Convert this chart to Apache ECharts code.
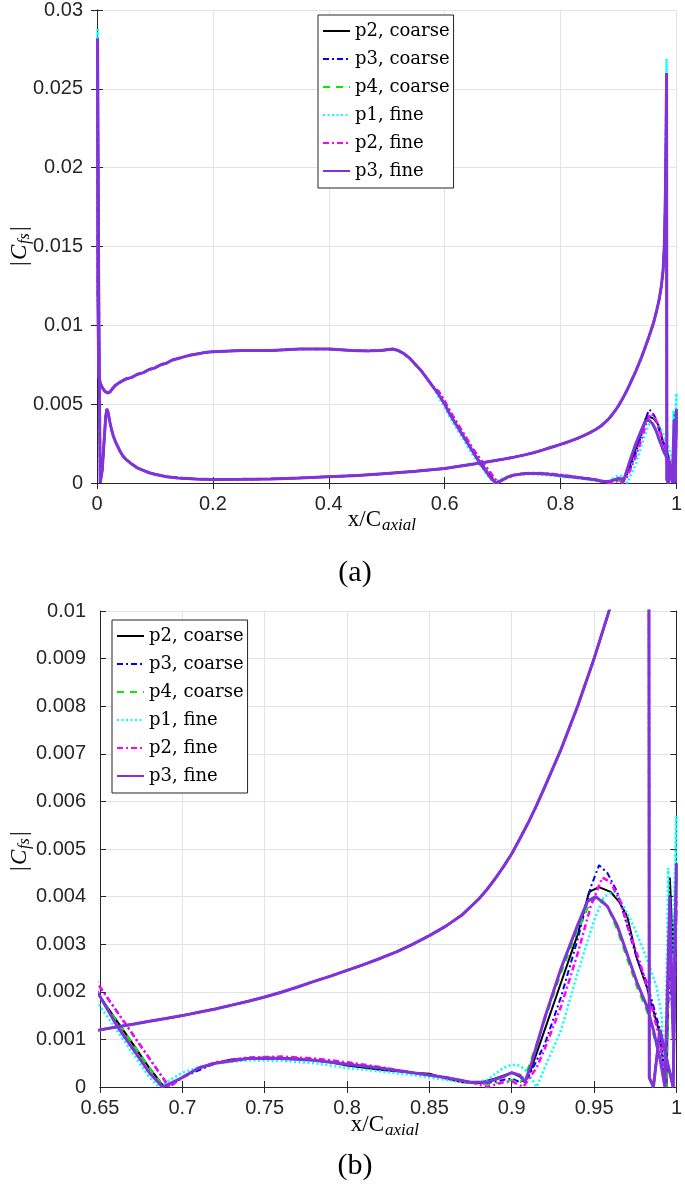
<!DOCTYPE html>
<html>
<head>
<meta charset="utf-8">
<script src="https://cdn.jsdelivr.net/npm/echarts@6/dist/echarts.min.js"></script>
<style>
html,body{margin:0;padding:0;background:#fff;}
#chart{width:685px;height:1194px;}
</style>
</head>
<body>
<div id="chart"></div>
<script>
// ---------- DATA (x/C_axial, |C_fs|) ----------
const seriesNames = ['p2, coarse', 'p3, coarse', 'p4, coarse', 'p1, fine', 'p2, fine', 'p3, fine'];
const seriesColors = ['#000000', '#0000ff', '#00ee00', '#00ffff', '#ff00ff', '#7f33d8'];

// leading-edge and trailing-edge peak values per series
const leadingPeak = [0.0282, 0.0282, 0.0282, 0.0288, 0.0282, 0.0282];
const trailingPeak = [0.0260, 0.0260, 0.0260, 0.0269, 0.0260, 0.0260];

// suction side, front part (common to all series)
const suctionFront = [
  [0.0015, 0.012], [0.003, 0.0068], [0.006, 0.0063], [0.01, 0.0060], [0.014, 0.0058], [0.019, 0.0057],
  [0.023, 0.0058], [0.027, 0.0060], [0.032, 0.0062], [0.04, 0.0064], [0.05, 0.0066], [0.06, 0.0067],
  [0.07, 0.0069], [0.08, 0.0070], [0.09, 0.0072], [0.1, 0.0073], [0.11, 0.0075], [0.12, 0.0076],
  [0.13, 0.0078], [0.14, 0.0079], [0.15, 0.0080], [0.16, 0.0081], [0.175, 0.0082], [0.19, 0.0083],
  [0.2, 0.00833], [0.25, 0.0084], [0.3, 0.0084], [0.35, 0.0085], [0.4, 0.0085], [0.44, 0.0084],
  [0.47, 0.00838], [0.49, 0.0084], [0.51, 0.0085], [0.52, 0.0084], [0.53, 0.0082], [0.54, 0.0079],
  [0.55, 0.0075], [0.56, 0.0071], [0.57, 0.0066], [0.58, 0.0061]
];

// suction side, rear part (per series)
const rearP2Coarse = [
  [0.59, 0.0056], [0.6, 0.0050], [0.61, 0.0043], [0.62, 0.0037], [0.63, 0.0031], [0.64, 0.0025],
  [0.65, 0.0019], [0.66, 0.0014], [0.67, 0.0009], [0.68, 0.0004], [0.689, 0.0], [0.695, 0.0001],
  [0.70, 0.0002], [0.71, 0.0004], [0.72, 0.0005], [0.73, 0.00058], [0.75, 0.00062], [0.77, 0.0006],
  [0.79, 0.00052], [0.8, 0.00045], [0.82, 0.00036], [0.84, 0.0003], [0.85, 0.00028], [0.86, 0.00018],
  [0.87, 0.0001], [0.88, 0.00008], [0.89, 0.00018], [0.9, 0.0003], [0.905, 0.00022], [0.908, 0.0001],
  [0.912, 0.0004], [0.92, 0.0012], [0.93, 0.0022], [0.94, 0.0032], [0.947, 0.0041], [0.953, 0.0042],
  [0.96, 0.0041], [0.965, 0.0039], [0.97, 0.0036], [0.976, 0.0027], [0.982, 0.0021], [0.986, 0.0016],
  [0.99, 0.0011], [0.994, 0.0], [0.996, 0.0044], [0.998, 0.0028], [1.0, 0.0045]
];
const rearP3Coarse = [
  [0.59, 0.0058], [0.6, 0.0052], [0.61, 0.0045], [0.62, 0.0039], [0.63, 0.0033], [0.64, 0.0027],
  [0.65, 0.0021], [0.66, 0.0016], [0.67, 0.0011], [0.68, 0.0006], [0.692, 0.0], [0.70, 0.0002],
  [0.71, 0.00035], [0.72, 0.0005], [0.74, 0.0006], [0.76, 0.00062], [0.78, 0.00058], [0.8, 0.0005],
  [0.82, 0.0004], [0.84, 0.0003], [0.86, 0.0002], [0.875, 0.0001], [0.885, 0.00008], [0.895, 0.00015],
  [0.9, 0.00018], [0.905, 0.0001], [0.91, 0.0002], [0.92, 0.0009], [0.93, 0.0019], [0.94, 0.0031],
  [0.948, 0.0042], [0.953, 0.00466], [0.958, 0.0045], [0.964, 0.0041], [0.97, 0.0034], [0.976, 0.0027],
  [0.982, 0.0022], [0.986, 0.0017], [0.99, 0.0012], [0.993, 0.0], [0.996, 0.0025], [0.998, 0.0012],
  [1.0, 0.0037]
];
const rearP4Coarse = [
  [0.59, 0.0056], [0.6, 0.0050], [0.61, 0.0043], [0.62, 0.0037], [0.63, 0.0031], [0.64, 0.0025],
  [0.65, 0.0019], [0.66, 0.0014], [0.67, 0.0009], [0.68, 0.0004], [0.689, 0.0], [0.70, 0.0002],
  [0.71, 0.0004], [0.72, 0.0005], [0.74, 0.0006], [0.76, 0.00062], [0.78, 0.00056], [0.8, 0.00048],
  [0.82, 0.0004], [0.84, 0.0003], [0.86, 0.0002], [0.875, 0.0001], [0.885, 0.00005], [0.895, 0.0001],
  [0.9, 0.00015], [0.905, 0.00008], [0.91, 0.0004], [0.92, 0.0014], [0.93, 0.0024], [0.94, 0.0033],
  [0.948, 0.0039], [0.953, 0.0040], [0.958, 0.0038], [0.964, 0.0033], [0.97, 0.0027], [0.976, 0.0021],
  [0.982, 0.0016], [0.986, 0.0011], [0.99, 0.0006], [0.994, 0.0], [0.996, 0.0034], [0.998, 0.0015],
  [1.0, 0.0042]
];
const rearP1Fine = [
  [0.59, 0.0054], [0.6, 0.0048], [0.61, 0.0041], [0.62, 0.0035], [0.63, 0.0029], [0.64, 0.0023],
  [0.65, 0.0017], [0.66, 0.0012], [0.67, 0.0007], [0.68, 0.0002], [0.686, 0.0], [0.69, 0.0001],
  [0.70, 0.0003], [0.71, 0.00042], [0.72, 0.0005], [0.74, 0.00056], [0.76, 0.00055], [0.78, 0.0005],
  [0.8, 0.0004], [0.82, 0.00033], [0.84, 0.00025], [0.86, 0.00015], [0.875, 0.00008], [0.885, 0.00015],
  [0.895, 0.0004], [0.9, 0.00047], [0.905, 0.00045], [0.91, 0.0003], [0.915, 0.0], [0.92, 0.0004],
  [0.93, 0.0012], [0.94, 0.0024], [0.95, 0.0035], [0.956, 0.0040], [0.962, 0.0041], [0.968, 0.0038],
  [0.975, 0.0033], [0.982, 0.0027], [0.988, 0.0021], [0.991, 0.0015], [0.993, 0.0], [0.995, 0.0046],
  [0.997, 0.0020], [1.0, 0.0057]
];
const rearP2Fine = [
  [0.59, 0.0058], [0.6, 0.0052], [0.61, 0.0045], [0.62, 0.0039], [0.63, 0.0033], [0.64, 0.0027],
  [0.65, 0.0021], [0.66, 0.0016], [0.67, 0.0011], [0.68, 0.0006], [0.692, 0.0], [0.70, 0.0002],
  [0.71, 0.0004], [0.72, 0.00052], [0.74, 0.00062], [0.76, 0.00064], [0.78, 0.0006], [0.8, 0.00052],
  [0.82, 0.00042], [0.84, 0.0003], [0.86, 0.0002], [0.875, 0.0001], [0.885, 0.0], [0.895, 0.0001],
  [0.9, 0.00012], [0.907, 0.0], [0.915, 0.0004], [0.92, 0.0008], [0.93, 0.0017], [0.94, 0.0028],
  [0.948, 0.0038], [0.955, 0.0044], [0.96, 0.0043], [0.966, 0.0039], [0.972, 0.0032], [0.978, 0.0026],
  [0.983, 0.0020], [0.987, 0.0014], [0.99, 0.0010], [0.993, 0.0], [0.996, 0.0030], [0.998, 0.0012],
  [1.0, 0.0040]
];
const rearP3Fine = [
  [0.59, 0.0056], [0.6, 0.0050], [0.61, 0.0043], [0.62, 0.0037], [0.63, 0.0031], [0.64, 0.0025],
  [0.65, 0.0019], [0.66, 0.0013], [0.67, 0.0008], [0.68, 0.0003], [0.688, 0.0], [0.70, 0.0002],
  [0.71, 0.0004], [0.72, 0.0005], [0.74, 0.0006], [0.76, 0.0006], [0.78, 0.00056], [0.8, 0.00048],
  [0.82, 0.0004], [0.84, 0.0003], [0.86, 0.0002], [0.875, 0.0001], [0.885, 0.0001], [0.895, 0.00022],
  [0.9, 0.0003], [0.905, 0.00025], [0.908, 0.0001], [0.912, 0.0005], [0.92, 0.00145], [0.93, 0.0025],
  [0.94, 0.0034], [0.946, 0.0039], [0.951, 0.0040], [0.958, 0.0038], [0.964, 0.0034], [0.97, 0.0028],
  [0.976, 0.0022], [0.982, 0.0017], [0.986, 0.0012], [0.99, 0.0006], [0.993, 0.0], [0.996, 0.0040],
  [0.998, 0.0010], [1.0, 0.0047]
];
const suctionRear = [rearP2Coarse, rearP3Coarse, rearP4Coarse, rearP1Fine, rearP2Fine, rearP3Fine];

// trailing-edge wrap (common)
const trailingEdgeLoop = [[0.998, 0.0], [0.99, 0.0012], [0.986, 0.0], [0.9835, 0.0002]];

// pressure side, from trailing edge back to leading edge (common)
const pressureSide = [
  [0.982, 0.022], [0.981, 0.0185], [0.98, 0.0165], [0.979, 0.015], [0.977, 0.0135], [0.974, 0.0125],
  [0.97, 0.0116], [0.965, 0.0108], [0.96, 0.0101], [0.955, 0.00955], [0.95, 0.0090], [0.945, 0.0085],
  [0.94, 0.0080], [0.935, 0.00755], [0.93, 0.0071], [0.925, 0.0067], [0.92, 0.0063], [0.915, 0.00591],
  [0.91, 0.00555], [0.905, 0.00522], [0.9, 0.0049], [0.895, 0.00463], [0.89, 0.00438], [0.885, 0.00415],
  [0.88, 0.00395], [0.87, 0.00362], [0.86, 0.00338], [0.85, 0.00318], [0.84, 0.0030], [0.83, 0.00284],
  [0.82, 0.0027], [0.81, 0.00257], [0.8, 0.00245], [0.79, 0.00233], [0.78, 0.00222], [0.77, 0.0021],
  [0.76, 0.00199], [0.75, 0.00189], [0.74, 0.0018], [0.73, 0.00172], [0.72, 0.00164], [0.71, 0.00157],
  [0.7, 0.0015], [0.69, 0.00144], [0.68, 0.00138], [0.67, 0.00132], [0.66, 0.00126], [0.65, 0.0012],
  [0.6, 0.00092], [0.55, 0.00075], [0.5, 0.0006], [0.45, 0.00048], [0.4, 0.0004], [0.35, 0.00032],
  [0.3, 0.00026], [0.25, 0.00023], [0.2, 0.00022], [0.17, 0.00025], [0.14, 0.00032], [0.12, 0.0004],
  [0.1, 0.00055], [0.09, 0.00065], [0.08, 0.0008], [0.07, 0.00095], [0.06, 0.0012], [0.05, 0.0015],
  [0.045, 0.0017], [0.04, 0.0020], [0.036, 0.0023], [0.032, 0.0026], [0.028, 0.0030], [0.025, 0.0034],
  [0.022, 0.0039], [0.019, 0.0045], [0.017, 0.0047], [0.015, 0.0042], [0.012, 0.0025], [0.009, 0.0008],
  [0.0055, 0.0], [0.003, 0.012]
];

// axis ranges / ticks
const panelA = { xMin: 0, xMax: 1, xStep: 0.2, yMin: 0, yMax: 0.03, yStep: 0.005 };
const panelB = { xMin: 0.65, xMax: 1, xStep: 0.05, yMin: 0, yMax: 0.01, yStep: 0.001 };
const panelLabels = ['(a)', '(b)'];

// ---------- CHART ----------
const lineStyles = [
  { width: 2, type: 'solid' },
  { width: 2, type: [6, 3, 2, 3] },
  { width: 2, type: [7, 6] },
  { width: 2.5, type: [2, 2.5] },
  { width: 2.5, type: [6, 3, 2, 3] },
  { width: 3, type: 'solid' }
];

function buildPath(i) {
  return [[0.001, leadingPeak[i]]]
    .concat(suctionFront)
    .concat(suctionRear[i])
    .concat(trailingEdgeLoop)
    .concat([[0.983, trailingPeak[i]]])
    .concat(pressureSide)
    .concat([[0.001, leadingPeak[i]]]);
}

const axisColor = '#262626';
const tickFont = { fontFamily: 'Liberation Sans, Arial, sans-serif', fontSize: 20, color: axisColor };

function xAxes(p, gridIndex) {
  const base = { type: 'value', gridIndex, min: p.xMin, max: p.xMax, interval: p.xStep,
    axisLine: { show: true, lineStyle: { color: axisColor, width: 1 } },
    axisTick: { show: true, inside: true, length: 6, lineStyle: { color: axisColor } } };
  return [
    Object.assign({}, base, { position: 'bottom',
      axisLabel: Object.assign({ margin: 11, showMaxLabel: true, showMinLabel: true }, tickFont),
      splitLine: { show: true, lineStyle: { color: '#e3e3e3', width: 1 } } }),
    Object.assign({}, base, { position: 'top', axisLabel: { show: false }, splitLine: { show: false } })
  ];
}
function yAxes(p, gridIndex) {
  const base = { type: 'value', gridIndex, min: p.yMin, max: p.yMax, interval: p.yStep,
    axisLine: { show: true, lineStyle: { color: axisColor, width: 1 } },
    axisTick: { show: true, inside: true, length: 6, lineStyle: { color: axisColor } } };
  return [
    Object.assign({}, base, { position: 'left',
      axisLabel: Object.assign({ margin: 14, showMaxLabel: true, showMinLabel: true }, tickFont),
      splitLine: { show: true, lineStyle: { color: '#e3e3e3', width: 1 } } }),
    Object.assign({}, base, { position: 'right', axisLabel: { show: false }, splitLine: { show: false } })
  ];
}

const series = [];
[0, 1].forEach(function (g) {
  seriesNames.forEach(function (name, i) {
    series.push({
      name: name, type: 'line', xAxisIndex: g * 2, yAxisIndex: g * 2,
      data: buildPath(i), symbol: 'none', showSymbol: false, clip: true,
      lineStyle: { color: seriesColors[i], width: lineStyles[i].width, type: lineStyles[i].type },
      itemStyle: { color: seriesColors[i] },
      z: 2 + i
    });
  });
});

function legendAt(left, top) {
  return {
    orient: 'vertical', left: left, top: top, data: seriesNames,
    itemWidth: 27, itemHeight: 14, itemGap: 8,
    backgroundColor: '#ffffff', borderColor: axisColor, borderWidth: 1,
    padding: [6, 4, 7, 4], borderRadius: 0,
    selectedMode: false,
    itemStyle: { opacity: 0, borderWidth: 0 },
    textStyle: { fontFamily: 'DejaVu Serif, serif', fontSize: 18, color: '#000', lineHeight: 20 }
  };
}

const serif = 'Liberation Serif, Times New Roman, serif';
function xName(cx, cy) {
  return { type: 'group', children: [
    { type: 'text', x: cx, y: cy, style: { text: 'x/C', font: '23px ' + serif, fill: '#000', textAlign: 'right', textVerticalAlign: 'middle' } },
    { type: 'text', x: cx + 1, y: cy + 6, style: { text: 'axial', font: 'italic 17px ' + serif, fill: '#000', textAlign: 'left', textVerticalAlign: 'middle' } }
  ] };
}
function yName(cx, cy) {
  return { type: 'group', x: cx, y: cy, rotation: Math.PI / 2, children: [
    { type: 'text', x: -21, y: 0, style: { text: '|', font: '23px ' + serif, fill: '#000', textAlign: 'left', textVerticalAlign: 'middle' } },
    { type: 'text', x: -15, y: 0, style: { text: 'C', font: 'italic 23px ' + serif, fill: '#000', textAlign: 'left', textVerticalAlign: 'middle' } },
    { type: 'text', x: 1, y: 5, style: { text: 'fs', font: 'italic 16px ' + serif, fill: '#000', textAlign: 'left', textVerticalAlign: 'middle' } },
    { type: 'text', x: 14, y: 0, style: { text: '|', font: '23px ' + serif, fill: '#000', textAlign: 'left', textVerticalAlign: 'middle' } }
  ] };
}

const option = {
  animation: false,
  backgroundColor: '#ffffff',
  grid: [
    { left: 97, top: 6, width: 581, height: 477, containLabel: false },
    { left: 100, top: 611, width: 583, height: 476, containLabel: false }
  ],
  xAxis: xAxes(panelA, 0).concat(xAxes(panelB, 1)),
  yAxis: yAxes(panelA, 0).concat(yAxes(panelB, 1)),
  legend: [legendAt(318, 15), legendAt(112, 620)],
  series: series,
  graphic: [
    xName(381, 520),
    xName(384, 1125),
    yName(20, 245),
    yName(20, 850),
    { type: 'text', x: 355, y: 573, style: { text: panelLabels[0], font: '30px ' + serif, fill: '#000', textAlign: 'center', textVerticalAlign: 'middle' } },
    { type: 'text', x: 355, y: 1166, style: { text: panelLabels[1], font: '30px ' + serif, fill: '#000', textAlign: 'center', textVerticalAlign: 'middle' } }
  ]
};

const chart = echarts.init(document.getElementById('chart'), null, { renderer: 'canvas' });
chart.setOption(option);
</script>
</body>
</html>
